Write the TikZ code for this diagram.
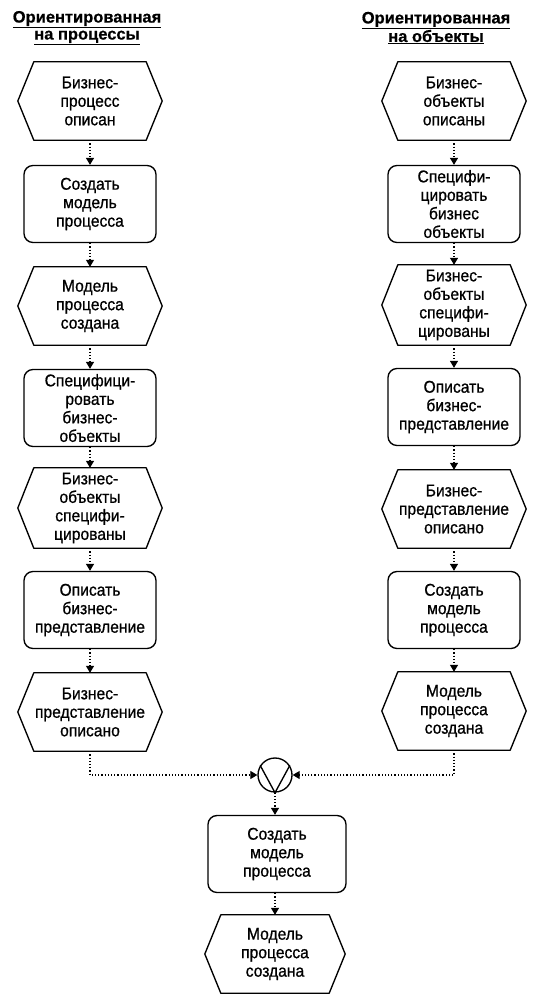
\documentclass[tikz,border=0pt]{standalone}
\usepackage{fontspec}
\setmainfont{Liberation Sans}
\newfontfamily\bodyfont{Liberation Sans}[FakeStretch=0.92,FakeBold=0.8]
\newfontfamily\hdrfont{Liberation Sans Bold}[FakeBold=0.6]
\usetikzlibrary{arrows.meta}
\tikzset{
  shapeline/.style={line width=1.35pt, line join=round},
  lbl/.style={font=\bodyfont\fontsize{17}{18.5}\selectfont, align=center, inner sep=0pt},
  evt/.style={lbl, minimum width=144pt, minimum height=78pt,
    append after command={\pgfextra{\draw[shapeline]
      ([xshift=16pt]\tikzlastnode.north west) -- ([xshift=-16pt]\tikzlastnode.north east) --
      (\tikzlastnode.east) -- ([xshift=-16pt]\tikzlastnode.south east) --
      ([xshift=16pt]\tikzlastnode.south west) -- (\tikzlastnode.west) -- cycle;}}},
  fn/.style={lbl, draw, shapeline, rounded corners=9pt, minimum width=132pt, minimum height=77pt},
  conn/.style={dotted, line width=1.2pt, -{Triangle[width=8pt,length=7pt]}},
  hdr/.style={font=\hdrfont\fontsize{16.5}{17}\selectfont, align=center, inner sep=0pt},
  orcon/.style={circle, draw, shapeline, minimum size=34pt, inner sep=0pt},
}
\begin{document}
\begin{tikzpicture}
\useasboundingbox (0,0) rectangle (542pt,-1004pt);
% headers
\node[hdr] (hl) at (87pt,-28pt) {\underline{Ориентированная}\\\underline{на процессы}};
\node[hdr] (hr) at (436pt,-28pt) {\underline{Ориентированная}\\\underline{на объекты}};
% left column
\node[evt] (L1) at (90pt,-101pt) {Бизнес-\\процесс\\описан};
\node[fn]  (L2) at (90pt,-204pt) {Создать\\модель\\процесса};
\node[evt] (L3) at (90pt,-306pt) {Модель\\процесса\\создана};
\node[fn]  (L4) at (90pt,-408pt) {Специфици-\\ровать\\бизнес-\\объекты};
\node[evt, minimum height=80pt] (L5) at (90pt,-508pt) {Бизнес-\\объекты\\специфи-\\цированы};
\node[fn]  (L6) at (90pt,-610pt) {Описать\\бизнес-\\представление};
\node[evt] (L7) at (90pt,-712pt) {Бизнес-\\представление\\описано};
% right column
\node[evt] (R1) at (454pt,-101pt) {Бизнес-\\объекты\\описаны};
\node[fn]  (R2) at (454pt,-204pt) {Специфи-\\цировать\\бизнес\\объекты};
\node[evt, minimum height=80pt] (R3) at (454pt,-305pt) {Бизнес-\\объекты\\специфи-\\цированы};
\node[fn]  (R4) at (454pt,-407pt) {Описать\\бизнес-\\представление};
\node[evt] (R5) at (454pt,-509pt) {Бизнес-\\представление\\описано};
\node[fn]  (R6) at (454pt,-610pt) {Создать\\модель\\процесса};
\node[evt] (R7) at (454pt,-711pt) {Модель\\процесса\\создана};
% join
\node[orcon] (OR) at (275pt,-775pt) {};
\draw[shapeline] (OR.147) -- (OR.south) -- (OR.33);
\node[fn, minimum width=138pt] (B1) at (277pt,-854pt) {Создать\\модель\\процесса};
\node[evt, minimum width=140pt] (B2) at (275pt,-954pt) {Модель\\процесса\\создана};
% connectors
\foreach \a/\b in {L1/L2,L2/L3,L3/L4,L4/L5,L5/L6,L6/L7,R1/R2,R2/R3,R3/R4,R4/R5,R5/R6,R6/R7}
  \draw[conn] (\a.south) -- (\b.north);
\draw[conn] (L7.south) |- (OR.west);
\draw[conn] (R7.south) |- (OR.east);
\draw[conn] (OR.south) -- (OR.south |- B1.north);
\draw[conn] (B1.south -| B2.north) -- (B2.north);
\end{tikzpicture}
\end{document}
